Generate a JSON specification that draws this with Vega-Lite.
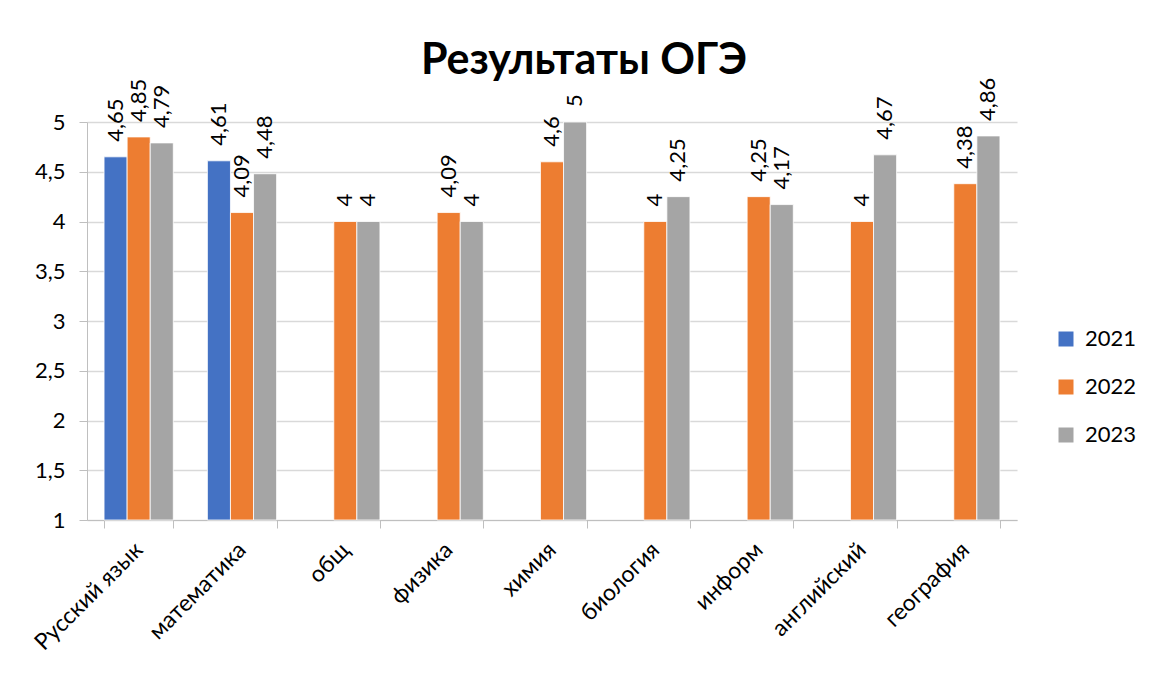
{
  "$schema": "https://vega.github.io/schema/vega-lite/v6.json",
  "width": 930,
  "height": 398,
  "autosize": {"type": "none"},
  "padding": {"left": 87, "top": 122, "right": 132, "bottom": 157},
  "background": "white",
  "config": {
    "locale": {"number": {"decimal": ",", "thousands": " ", "grouping": [3], "currency": ["", " ₽"]}},
    "font": "Lato",
    "view": {"stroke": null}
  },
  "title": {
    "text": "Результаты ОГЭ",
    "font": "Lato",
    "fontSize": 43,
    "fontWeight": "bold",
    "color": "#000000",
    "anchor": "middle",
    "frame": "group",
    "baseline": "alphabetic",
    "offset": -39,
    "dx": 32
  },
  "data": {
    "values": [
      {"subject": "Русский язык", "year": "2021", "value": 4.65},
      {"subject": "Русский язык", "year": "2022", "value": 4.85},
      {"subject": "Русский язык", "year": "2023", "value": 4.79},
      {"subject": "математика", "year": "2021", "value": 4.61},
      {"subject": "математика", "year": "2022", "value": 4.09},
      {"subject": "математика", "year": "2023", "value": 4.48},
      {"subject": "общ", "year": "2022", "value": 4},
      {"subject": "общ", "year": "2023", "value": 4},
      {"subject": "физика", "year": "2022", "value": 4.09},
      {"subject": "физика", "year": "2023", "value": 4},
      {"subject": "химия", "year": "2022", "value": 4.6},
      {"subject": "химия", "year": "2023", "value": 5},
      {"subject": "биология", "year": "2022", "value": 4},
      {"subject": "биология", "year": "2023", "value": 4.25},
      {"subject": "информ", "year": "2022", "value": 4.25},
      {"subject": "информ", "year": "2023", "value": 4.17},
      {"subject": "английский", "year": "2022", "value": 4},
      {"subject": "английский", "year": "2023", "value": 4.67},
      {"subject": "география", "year": "2022", "value": 4.38},
      {"subject": "география", "year": "2023", "value": 4.86}
    ]
  },
  "encoding": {
    "x": {
      "field": "subject",
      "type": "nominal",
      "sort": null,
      "scale": {"paddingInner": 0.33, "paddingOuter": 0.165},
      "axis": {
        "title": null,
        "labelAngle": -45,
        "labelAlign": "right",
        "labelBaseline": "middle",
        "labelFontSize": 23,
        "labelColor": "#000000",
        "labelPadding": 18,
        "labelFont": "Lato",
        "tickBand": "extent",
        "tickSize": 8,
        "tickColor": "#BFBFBF",
        "domainColor": "#BFBFBF",
        "grid": false
      }
    },
    "xOffset": {"field": "year", "type": "nominal", "scale": {"paddingInner": 0, "paddingOuter": 0, "domain": ["2021", "2022", "2023"]}},
    "y": {
      "field": "value",
      "type": "quantitative",
      "scale": {"domain": [1, 5], "zero": false, "nice": false},
      "axis": {
        "title": null,
        "values": [1, 1.5, 2, 2.5, 3, 3.5, 4, 4.5, 5],
        "format": "~g",
        "labelFontSize": 22,
        "labelColor": "#000000",
        "labelPadding": 14,
        "labelFont": "Lato",
        "tickSize": 8,
        "tickColor": "#BFBFBF",
        "domainColor": "#BFBFBF",
        "gridColor": "#D9D9D9",
        "gridWidth": 1.3
      }
    }
  },
  "layer": [
    {
      "mark": {"type": "bar", "stroke": "white", "strokeWidth": 0.8},
      "encoding": {
        "y2": {"datum": 1},
        "color": {
          "field": "year",
          "type": "nominal",
          "scale": {"domain": ["2021", "2022", "2023"], "range": ["#4472C4", "#ED7D31", "#A5A5A5"]},
          "legend": {
            "title": null,
            "orient": "none",
            "legendX": 968,
            "legendY": 206,
            "symbolType": "square",
            "symbolSize": 225,
            "symbolStrokeWidth": 0,
            "labelFontSize": 22,
            "labelFont": "Lato",
            "labelColor": "#000000",
            "labelOffset": 8,
            "rowPadding": 26
          }
        }
      }
    },
    {
      "mark": {"type": "text", "angle": 270, "align": "left", "baseline": "middle", "dx": 15, "fontSize": 22, "font": "Lato", "color": "#000000"},
      "encoding": {
        "text": {"field": "value", "type": "quantitative", "format": "~g"}
      }
    }
  ]
}
